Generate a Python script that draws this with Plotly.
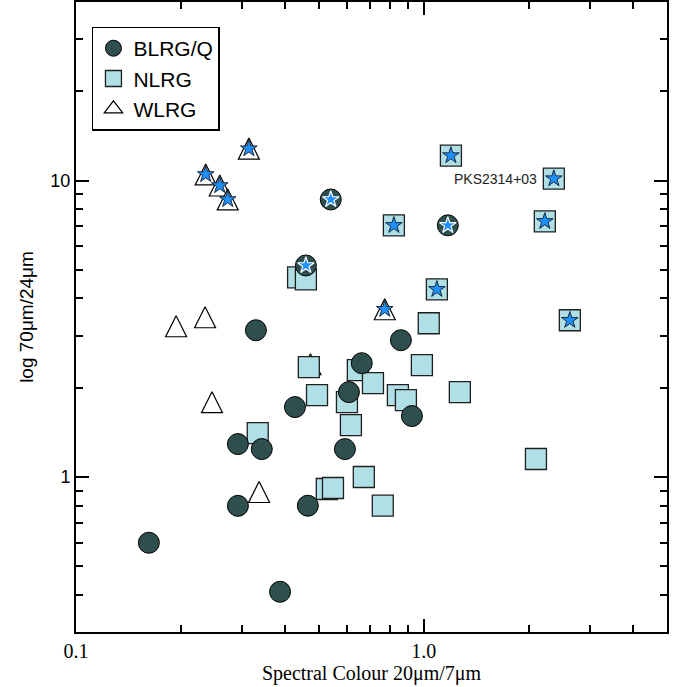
import numpy as np
import plotly.graph_objects as go

# BLRG/Q: 20um/7um spectral colour and 70um/24um ratio; starred = flagged sources
blrg_colour = [0.162, 0.386, 0.292, 0.464, 0.292, 0.342, 0.593, 0.426, 0.609,
               0.663, 0.859, 0.924, 0.329, 0.540, 0.458, 1.172]
blrg_ratio = [0.600, 0.410, 0.799, 0.800, 1.291, 1.242, 1.242, 1.721, 1.933,
              2.420, 2.893, 1.605, 3.126, 8.63, 5.17, 7.06]
blrg_starred = [0, 0, 0, 0, 0, 0, 0, 0, 0, 0, 0, 0, 0, 1, 1, 1]

# NLRG
nlrg_colour = [0.467, 0.493, 0.601, 0.646, 0.714, 0.842, 0.888, 1.033, 0.987,
               1.269, 0.617, 0.333, 0.526, 0.548, 0.672, 0.762, 2.10, 0.435,
               0.458, 1.196, 2.364, 0.820, 2.227, 1.090, 2.628]
nlrg_ratio = [2.346, 1.889, 1.788, 2.293, 2.073, 1.889, 1.816, 3.300, 2.383,
              1.933, 1.496, 1.406, 0.911, 0.918, 1.000, 0.800, 1.150, 4.715,
              4.640, 12.14, 10.15, 7.06, 7.28, 4.296, 3.378]
nlrg_starred = [0] * 19 + [1] * 6

# WLRG
wlrg_colour = [0.194, 0.235, 0.246, 0.336, 0.472, 0.314, 0.236, 0.259, 0.273, 0.772]
wlrg_ratio = [3.224, 3.458, 1.788, 0.890, 2.400, 12.81, 10.48, 9.62, 8.63, 3.679]
wlrg_starred = [0, 0, 0, 0, 0, 1, 1, 1, 1, 1]

# labelled source
label_name = "PKS2314+03"
label_colour = 2.364
label_ratio = 10.15

x_ticks = [0.1, 1.0]
x_ticktext = ["0.1", "1.0"]
x_minor = [0.2, 0.3, 0.4, 0.5, 0.6, 0.7, 0.8, 0.9, 2, 3, 4]
y_ticks = [1, 10]
y_ticktext = ["1", "10"]
y_minor = [0.3, 0.4, 0.5, 0.6, 0.7, 0.8, 0.9, 2, 3, 4, 5, 6, 7, 8, 9, 20, 30]


def pick(values, flags):
    return [v for v, f in zip(values, flags) if f]


SANS = "Liberation Sans, Arial, sans-serif"
SERIF = "Liberation Serif, Times New Roman, serif"
MSIZE = 21

fig = go.Figure()

# triangles (drawn first so other symbols sit on top); an upright,
# near-equilateral triangle centred on each point
fig.add_trace(go.Scatter(
    x=wlrg_colour, y=wlrg_ratio, mode="markers", name="WLRG", showlegend=False,
    marker=dict(symbol="arrow-down", angle=180, standoff=MSIZE / 2, size=MSIZE,
                color="white", line=dict(color="black", width=1.2)),
))
fig.add_trace(go.Scatter(
    x=nlrg_colour, y=nlrg_ratio, mode="markers", name="NLRG", legendrank=2,
    marker=dict(symbol="square", size=MSIZE, color="#B0E0E6",
                line=dict(color="#1f1f1f", width=1.3)),
))
fig.add_trace(go.Scatter(
    x=blrg_colour, y=blrg_ratio, mode="markers", name="BLRG/Q", legendrank=1,
    marker=dict(symbol="circle", size=MSIZE, color="#2F4F4F",
                line=dict(color="black", width=1)),
))
# legend key for the triangles
fig.add_trace(go.Scatter(
    x=[None], y=[None], mode="markers", name="WLRG", legendrank=3,
    marker=dict(symbol="triangle-up", size=MSIZE, color="white",
                line=dict(color="black", width=1.2)),
))

# star overlays for flagged sources
star_dark_x = pick(nlrg_colour, nlrg_starred) + pick(wlrg_colour, wlrg_starred)
star_dark_y = pick(nlrg_ratio, nlrg_starred) + pick(wlrg_ratio, wlrg_starred)
fig.add_trace(go.Scatter(
    x=star_dark_x, y=star_dark_y, mode="markers", showlegend=False,
    marker=dict(symbol="star", size=12.5, color="#1E90FF",
                line=dict(color="#1a2a3a", width=1)),
))
fig.add_trace(go.Scatter(
    x=pick(blrg_colour, blrg_starred), y=pick(blrg_ratio, blrg_starred),
    mode="markers", showlegend=False,
    marker=dict(symbol="star", size=12.5, color="#1E90FF",
                line=dict(color="white", width=1.2)),
))

fig.add_annotation(
    x=np.log10(label_colour), y=np.log10(label_ratio), text=label_name,
    showarrow=False, xanchor="right", yanchor="middle", xshift=-15,
    font=dict(family=SANS, size=14, color="#222222"),
)

axis_common = dict(
    type="log", ticks="inside", tickwidth=1.5, tickcolor="black", ticklen=13,
    showline=True, linecolor="black", linewidth=2, mirror="allticks",
    showgrid=False, zeroline=False, automargin=False,
)
fig.update_xaxes(
    range=[np.log10(0.1), np.log10(5)], tickmode="array", tickvals=x_ticks,
    ticktext=x_ticktext,
    minor=dict(tickmode="array", tickvals=x_minor, ticks="inside", ticklen=7,
               tickwidth=1.5, tickcolor="black", showgrid=False),
    tickfont=dict(family=SERIF, size=20, color="black"),
    title=dict(text="Spectral Colour 20μm/7μm", standoff=2,
               font=dict(family=SERIF, size=20, color="black")),
    **axis_common,
)
fig.update_yaxes(
    range=[np.log10(0.3), np.log10(40)], tickmode="array", tickvals=y_ticks,
    ticktext=y_ticktext,
    minor=dict(tickmode="array", tickvals=y_minor, ticks="inside", ticklen=7,
               tickwidth=1.5, tickcolor="black", showgrid=False),
    tickfont=dict(family=SANS, size=18, color="black"),
    title=dict(text="log 70μm/24μm", standoff=12,
               font=dict(family=SANS, size=19, color="black")),
    **axis_common,
)

fig.update_layout(
    width=678, height=687,
    margin=dict(l=76, r=11, t=2, b=55),
    paper_bgcolor="white", plot_bgcolor="white",
    legend=dict(
        x=0.027, y=0.961, xanchor="left", yanchor="top",
        bgcolor="white", bordercolor="black", borderwidth=1.5,
        font=dict(family=SANS, size=21, color="black"),
        itemsizing="trace", tracegroupgap=0,
    ),
)

fig.write_html("out.html")
